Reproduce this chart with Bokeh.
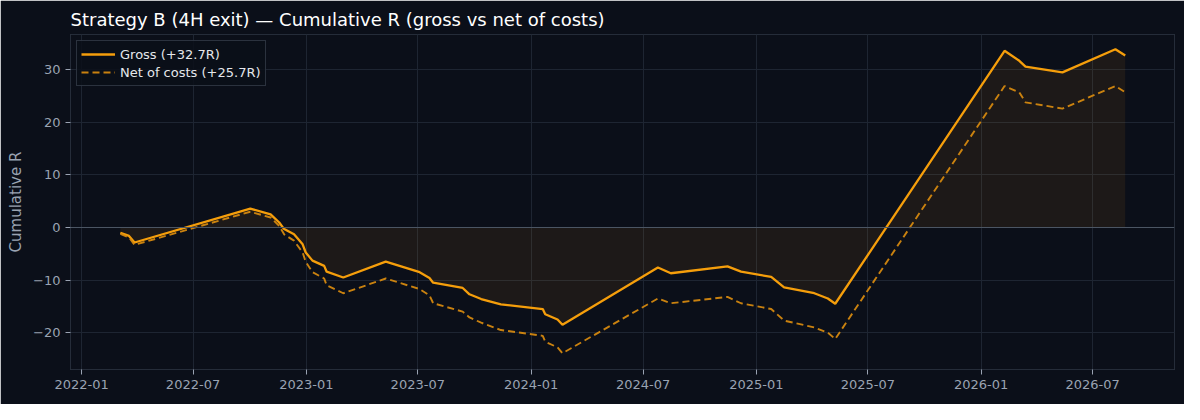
import datetime as dt

from bokeh.plotting import figure
from bokeh.models import Span, Range1d, MonthsTicker, DatetimeTickFormatter, SingleIntervalTicker, CustomJSTickFormatter, Legend
from bokeh.embed import file_html
from bokeh.resources import INLINE

# exit dates of trades
dates = [
    "2022-03-05", "2022-03-19", "2022-03-28", "2022-10-02", "2022-11-04",
    "2022-11-18", "2022-11-26", "2022-12-12", "2022-12-26", "2022-12-31",
    "2023-01-11", "2023-01-30", "2023-02-03", "2023-03-02", "2023-05-10",
    "2023-07-04", "2023-07-20", "2023-07-26", "2023-09-12", "2023-09-23",
    "2023-10-12", "2023-11-13", "2024-01-20", "2024-01-24", "2024-02-13",
    "2024-02-21", "2024-07-25", "2024-08-15", "2024-11-15", "2024-12-07",
    "2025-01-25", "2025-02-15", "2025-04-05", "2025-04-27", "2025-05-09",
    "2026-02-08", "2026-03-04", "2026-03-14", "2026-05-13", "2026-08-07",
    "2026-08-23",
]
gross = [
    -1.0, -1.6, -2.85, 3.6, 2.5,
    0.95, -0.3, -1.3, -3.2, -4.75,
    -6.3, -7.3, -8.4, -9.5, -6.5,
    -8.5, -9.6, -10.5, -11.5, -12.7,
    -13.6, -14.6, -15.5, -16.5, -17.5,
    -18.5, -7.6, -8.7, -7.4, -8.4,
    -9.4, -11.4, -12.5, -13.5, -14.5,
    33.6, 31.7, 30.6, 29.5, 33.9,
    32.7,
]
net = [
    -1.2, -1.9, -3.3, 3.0, 1.9,
    0.3, -1.3, -2.5, -4.75, -6.5,
    -8.5, -9.7, -11.0, -12.5, -9.7,
    -11.7, -12.9, -14.4, -16.0, -17.1,
    -18.1, -19.5, -20.6, -21.7, -22.8,
    -23.9, -13.5, -14.4, -13.2, -14.4,
    -15.5, -17.7, -19.0, -20.0, -21.2,
    26.9, 25.7, 23.8, 22.6, 26.9,
    25.7,
]

BG = "#0b0f19"
GRID = "#1e2532"
TXT = "#9aa3b2"
AMBER = "#f59e0b"

x = [dt.datetime.strptime(d, "%Y-%m-%d") for d in dates]

p = figure(width=1184, height=404, x_axis_type="datetime",
           output_backend="svg", toolbar_location=None,
           x_range=Range1d(dt.datetime(2021, 12, 14), dt.datetime(2026, 11, 11)),
           y_range=Range1d(-27.0, 36.7),
           min_border_left=70, min_border_right=10, min_border_top=34,
           min_border_bottom=35)

p.title.text = "Strategy B (4H exit) \u2014 Cumulative R (gross vs net of costs)"
p.title.text_color = "#ffffff"
p.title.text_font = "DejaVu Sans"
p.title.text_font_size = "18px"
p.title.text_font_style = "normal"

p.background_fill_color = BG
p.border_fill_color = BG
p.outline_line_color = "#252c39"

# shaded area between gross curve and zero
p.varea(x=x, y1=0, y2=gross, fill_color=AMBER, fill_alpha=0.08)

zero = Span(location=0, dimension="width", line_color="#4b5563", line_width=1.2)
p.add_layout(zero)

g = p.line(x, gross, line_color=AMBER, line_width=2.3)
n = p.line(x, net, line_color="#d4880f", line_width=1.9, line_dash="7 4", line_alpha=0.95)

legend = Legend(items=[("Gross (+32.7R)", [g]), ("Net of costs (+25.7R)", [n])],
                location="top_left")
legend.background_fill_color = BG
legend.background_fill_alpha = 0.85
legend.border_line_color = "#4b5563"
legend.border_line_width = 1.2
legend.label_text_color = "#e5e7eb"
legend.label_text_font = "DejaVu Sans"
legend.label_text_font_size = "13px"
legend.margin = 6
legend.padding = 4
legend.spacing = 0
legend.glyph_width = 34
legend.label_height = 18
legend.glyph_height = 18
p.add_layout(legend)

p.xaxis.ticker = MonthsTicker(months=[0, 6])
p.xaxis.formatter = DatetimeTickFormatter(months="%Y-%m", days="%Y-%m", years="%Y-%m")
p.yaxis.ticker = SingleIntervalTicker(interval=10)
p.yaxis.formatter = CustomJSTickFormatter(code="return tick.toString().replace('-', '\u2212');")
p.yaxis.axis_label = "Cumulative R"

for ax in (p.xaxis, p.yaxis):
    ax.axis_line_color = None
    ax.major_tick_line_color = TXT
    ax.major_tick_out = 5
    ax.major_tick_in = 0
    ax.minor_tick_line_color = None
    ax.major_label_text_color = TXT
    ax.major_label_text_font = "DejaVu Sans"
    ax.major_label_text_font_size = "13px"
    ax.major_label_standoff = 5
    ax.axis_label_text_color = TXT
    ax.axis_label_text_font = "DejaVu Sans"
    ax.axis_label_text_font_size = "15px"
    ax.axis_label_text_font_style = "normal"

p.grid.grid_line_color = GRID
p.grid.grid_line_width = 1

open("out.html", "w").write(file_html(p, INLINE))
